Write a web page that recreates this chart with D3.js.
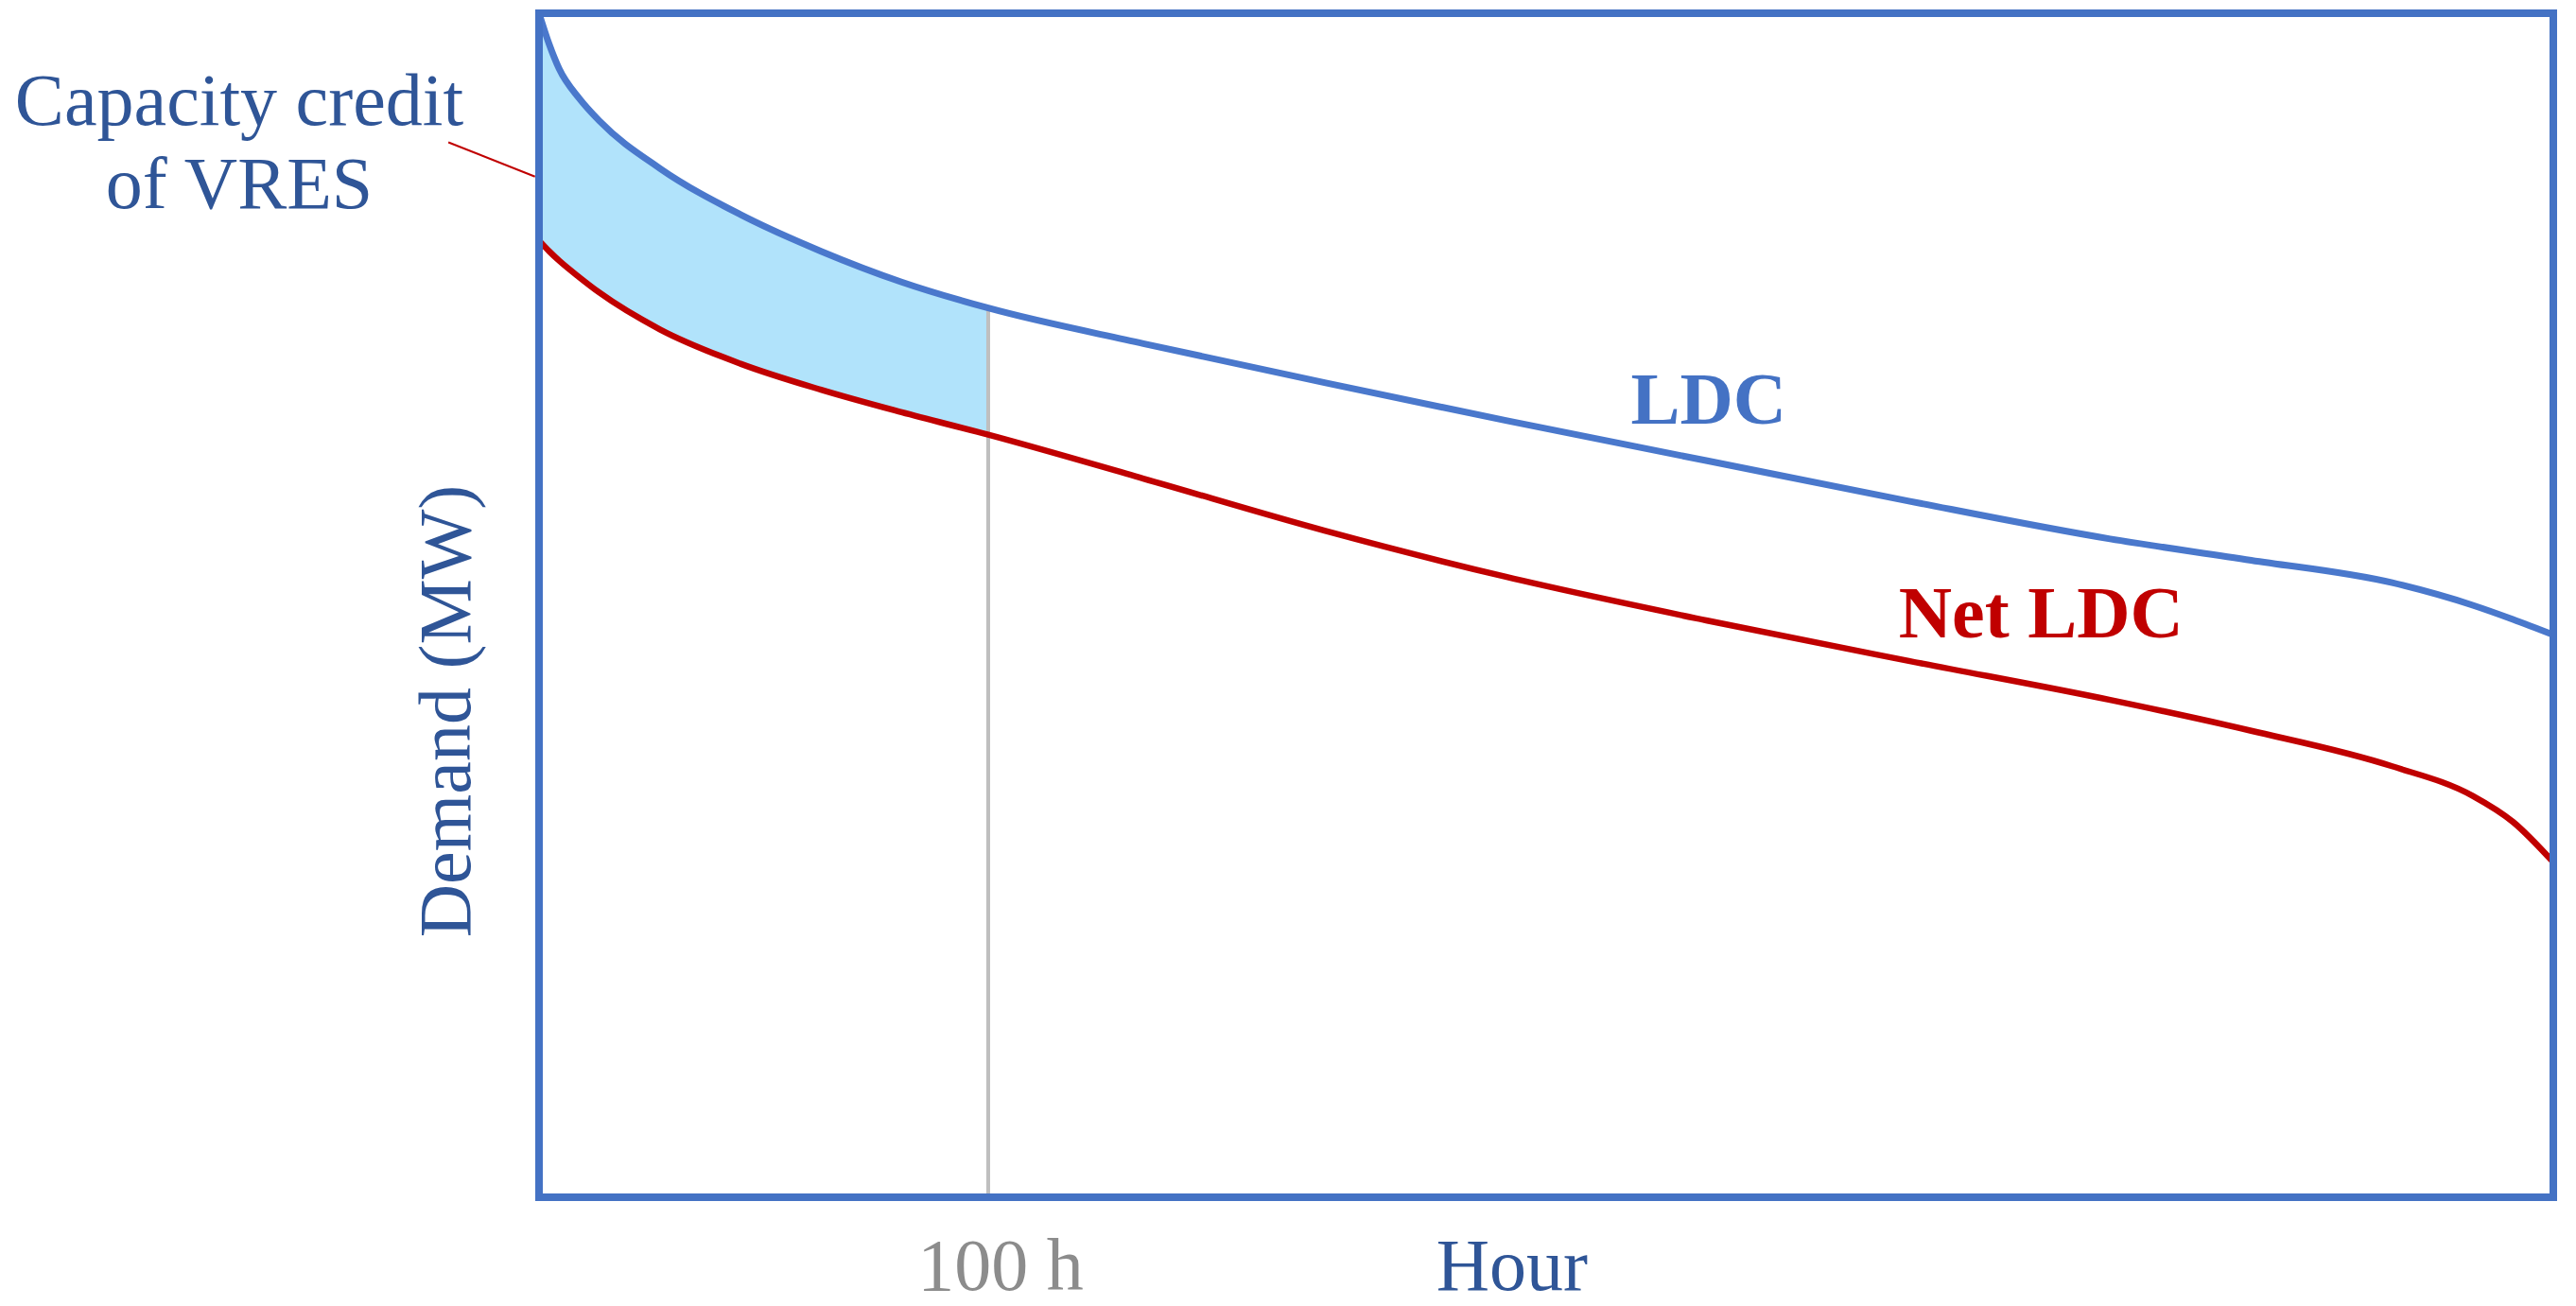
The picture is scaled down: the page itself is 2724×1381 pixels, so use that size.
<!DOCTYPE html>
<html>
<head>
<meta charset="utf-8">
<script src="https://cdn.jsdelivr.net/npm/d3@7"></script>
<style>
  body { margin: 0; background: #fff; }
  text { font-family: "Liberation Serif", "DejaVu Serif", serif; }
</style>
</head>
<body>
<div id="chart"></div>
<script>
// Duration axis (share of the hours of the year, %) and demand (% of peak scale)
const hours = [0, 0.5, 1, 2, 3, 6, 10, 14, 18, 22.3, 30, 39, 48, 58, 68, 78, 85, 92, 96, 98, 100];
const ldc = [100, 97.4, 95.3, 92.8, 90.9, 86.9, 83.0, 79.9, 77.3, 75.1, 72.1, 68.8, 65.6, 62.2, 58.8, 55.6, 53.8, 51.9, 50.0, 48.8, 47.5];
const netLdc = [80.8, 79.9, 79.1, 77.7, 76.4, 73.3, 70.4, 68.2, 66.3, 64.4, 60.7, 56.3, 52.4, 48.7, 45.3, 42.0, 39.4, 36.4, 33.9, 31.7, 28.3];

// position of the "100 h" marker on the duration axis
const hourMark = 22.3;
const hourMarkLabel = "100 h";

// annotation pointer for the capacity credit label (data units)
const pointerFrom = [-4.5, 89.1];
const pointerTo = [-0.2, 86.2];

const config = {
  width: 2724,
  height: 1381,
  margin: { top: 14, right: 24, bottom: 115, left: 570 },
};

const innerW = config.width - config.margin.left - config.margin.right;
const innerH = config.height - config.margin.top - config.margin.bottom;

const data = hours.map((h, i) => ({ h: h, ldc: ldc[i], net: netLdc[i] }));

const x = d3.scaleLinear().domain([0, 100]).range([0, innerW]);
const y = d3.scaleLinear().domain([0, 100]).range([innerH, 0]);

const svg = d3
  .select("#chart")
  .append("svg")
  .attr("width", config.width)
  .attr("height", config.height);

const chart = svg
  .append("g")
  .attr("transform", `translate(${config.margin.left},${config.margin.top})`);

// shaded band = capacity credit of VRES, up to the 100 h mark
const area = d3
  .area()
  .curve(d3.curveMonotoneX)
  .x((d) => x(d.h))
  .y0((d) => y(d.net))
  .y1((d) => y(d.ldc));

chart
  .append("path")
  .datum(data.filter((d) => d.h <= hourMark))
  .attr("fill", "#b1e3fb")
  .attr("d", area);

// vertical marker from the LDC down to the axis
const ldcAtMark = ldc[hours.indexOf(hourMark)];
chart
  .append("line")
  .attr("x1", x(hourMark))
  .attr("x2", x(hourMark))
  .attr("y1", y(ldcAtMark))
  .attr("y2", y(0))
  .attr("stroke", "#bfbfbf")
  .attr("stroke-width", 4);

const line = (key) =>
  d3
    .line()
    .curve(d3.curveMonotoneX)
    .x((d) => x(d.h))
    .y((d) => y(d[key]));

chart
  .append("path")
  .datum(data)
  .attr("fill", "none")
  .attr("stroke", "#c00000")
  .attr("stroke-width", 6.5)
  .attr("d", line("net"));

chart
  .append("path")
  .datum(data)
  .attr("fill", "none")
  .attr("stroke", "#4a78cc")
  .attr("stroke-width", 7)
  .attr("d", line("ldc"));

// frame
chart
  .append("rect")
  .attr("x", 0)
  .attr("y", 0)
  .attr("width", innerW)
  .attr("height", innerH)
  .attr("fill", "none")
  .attr("stroke", "#4472c4")
  .attr("stroke-width", 8);

// annotation pointer
chart
  .append("line")
  .attr("x1", x(pointerFrom[0]))
  .attr("y1", y(pointerFrom[1]))
  .attr("x2", x(pointerTo[0]))
  .attr("y2", y(pointerTo[1]))
  .attr("stroke", "#c00000")
  .attr("stroke-width", 2);

// labels
const fs = 78;

const note = chart
  .append("text")
  .attr("text-anchor", "middle")
  .attr("fill", "#2f5597")
  .style("font-size", fs + "px");
note.append("tspan").attr("x", -317).attr("y", 118).text("Capacity credit");
note.append("tspan").attr("x", -317).attr("y", 206).text("of VRES");

chart
  .append("text")
  .attr("transform", `translate(-73,738) rotate(-90)`)
  .attr("text-anchor", "middle")
  .attr("fill", "#2f5597")
  .style("font-size", fs + "px")
  .text("Demand (MW)");

chart
  .append("text")
  .attr("x", x(hourMark) + 13)
  .attr("y", innerH + 98)
  .attr("text-anchor", "middle")
  .attr("fill", "#8c8c8c")
  .style("font-size", fs + "px")
  .text(hourMarkLabel);

chart
  .append("text")
  .attr("x", x(48.3))
  .attr("y", innerH + 98)
  .attr("text-anchor", "middle")
  .attr("fill", "#2f5597")
  .style("font-size", fs + "px")
  .text("Hour");

chart
  .append("text")
  .attr("x", x(54.2))
  .attr("y", y(65.3))
  .attr("fill", "#4472c4")
  .style("font-size", fs + "px")
  .style("font-weight", "bold")
  .text("LDC");

chart
  .append("text")
  .attr("x", x(67.5))
  .attr("y", y(47.3))
  .attr("fill", "#c00000")
  .style("font-size", fs + "px")
  .style("font-weight", "bold")
  .text("Net LDC");
</script>
</body>
</html>
